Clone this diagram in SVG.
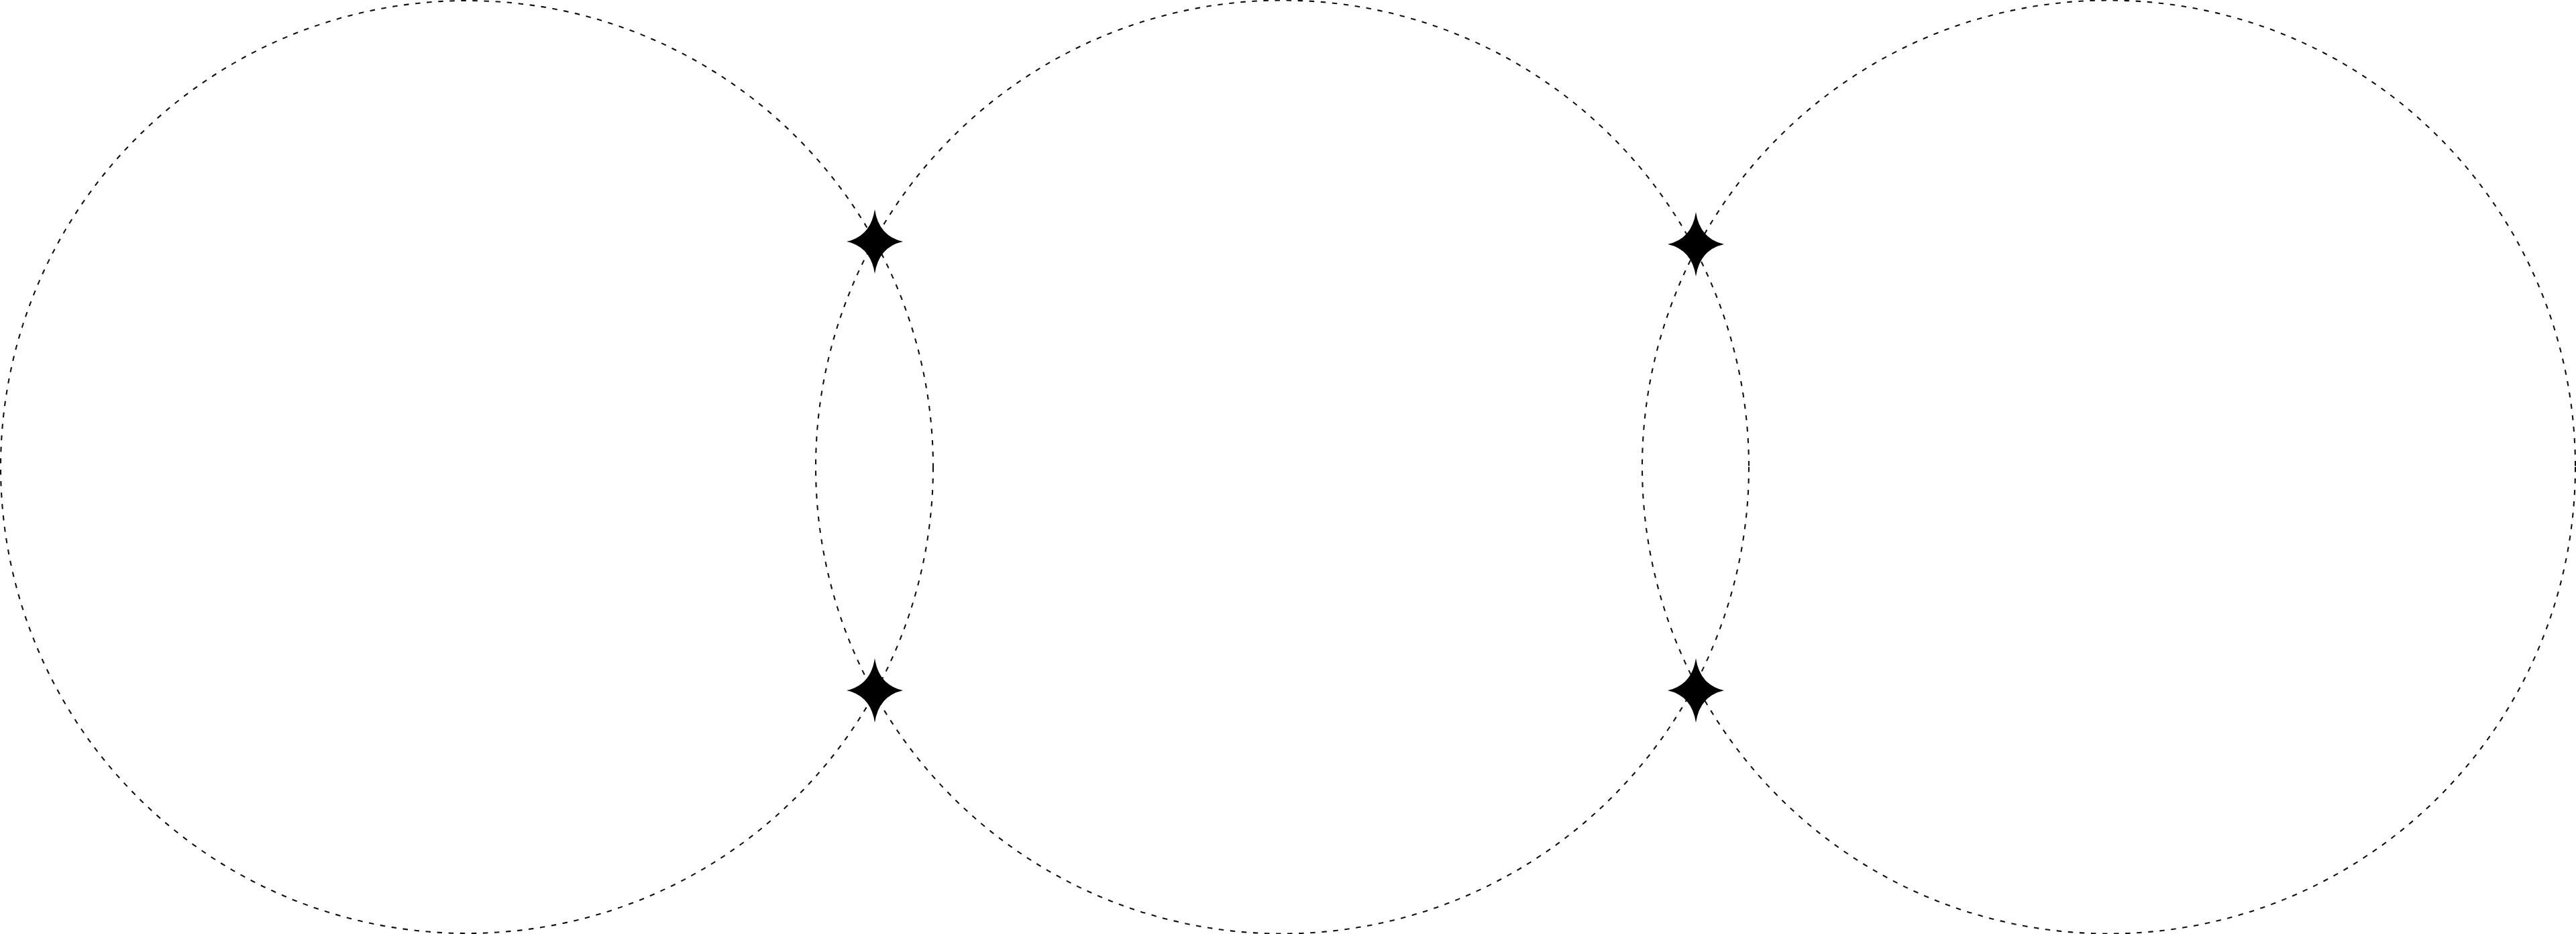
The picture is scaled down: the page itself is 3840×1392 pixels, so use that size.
<svg xmlns="http://www.w3.org/2000/svg" width="3840" height="1392" viewBox="0 0 3840 1392">
<style>
.ring{fill:none;stroke:#111;stroke-width:2.1;stroke-dasharray:7.5 9.6}
.star{fill:#000}
</style>
<defs>
<path id="spark" d="M0,-48 Q6,-8 42,0 Q6,8 0,48 Q-6,8 -42,0 Q-6,-8 0,-48 Z"/>
</defs>
<rect width="3840" height="1392" fill="#fff"/>
<g id="circle-left"><circle class="ring" cx="696" cy="696" r="695"/></g>
<g id="circle-middle"><circle class="ring" cx="1911.5" cy="696" r="695.5"/></g>
<g id="circle-right"><circle class="ring" cx="3143.5" cy="696" r="695.5"/></g>
<g id="star-1"><use class="star" href="#spark" x="1304" y="360"/></g>
<g id="star-2"><use class="star" href="#spark" x="1304" y="1029"/></g>
<g id="star-3"><use class="star" href="#spark" x="2528" y="364"/></g>
<g id="star-4"><use class="star" href="#spark" x="2528" y="1029"/></g>
<g id="connectors"></g>
</svg>
